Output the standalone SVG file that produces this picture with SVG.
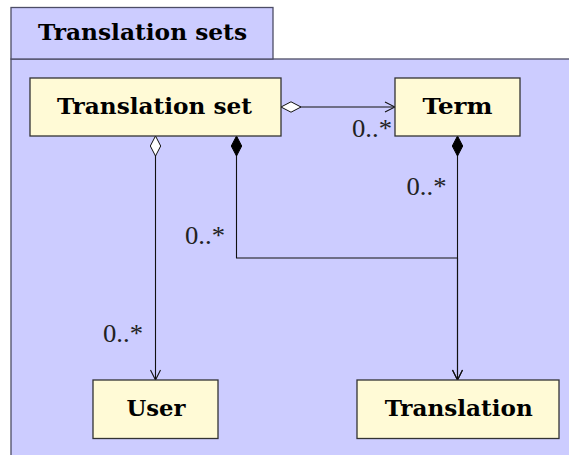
<svg xmlns="http://www.w3.org/2000/svg" width="569" height="455" viewBox="0 0 569 455">
  <style>
    .pkg { fill: #ccccff; stroke: #4d4d66; stroke-width: 1.3; }
    .cls { fill: #fffad6; stroke: #333333; stroke-width: 1.3; }
    .title { font-family: "DejaVu Serif", "Liberation Serif", serif; font-weight: bold; font-size: 22px; fill: #000; }
    .mult { font-family: "Liberation Serif", "DejaVu Serif", serif; font-size: 25px; fill: #222; }
    .line { fill: none; stroke: #111; stroke-width: 1.1; }
  </style>
  <defs>
    <marker id="open-arrow" viewBox="0 0 12 12" refX="11" refY="6" markerWidth="12" markerHeight="12" markerUnits="userSpaceOnUse" orient="auto">
      <path d="M1,1 L11,6 L1,11" fill="none" stroke="#111" stroke-width="1.1"/>
    </marker>
    <marker id="aggregation" viewBox="0 0 22 12" refX="1" refY="6" markerWidth="22" markerHeight="12" markerUnits="userSpaceOnUse" orient="auto">
      <path d="M1,6 L11,0.8 L21,6 L11,11.2 Z" fill="#ffffff" stroke="#111" stroke-width="1"/>
    </marker>
    <marker id="composition" viewBox="0 0 22 12" refX="1" refY="6" markerWidth="22" markerHeight="12" markerUnits="userSpaceOnUse" orient="auto">
      <path d="M1,6 L11,0.8 L21,6 L11,11.2 Z" fill="#000000" stroke="#000" stroke-width="1"/>
    </marker>
  </defs>

  <!-- package frame with its tab -->
  <g id="package">
    <rect class="pkg" x="11" y="59" width="570" height="410"/>
    <rect class="pkg" x="11" y="7.5" width="262" height="51.5"/>
    <text class="title" x="142.5" y="40" text-anchor="middle" textLength="209" lengthAdjust="spacingAndGlyphs">Translation sets</text>
  </g>

  <!-- associations -->
  <g id="connectors">
    <path class="line" d="M281,107 L395,107" marker-start="url(#aggregation)" marker-end="url(#open-arrow)"/>
    <path class="line" d="M155.5,136 L155.5,380" marker-start="url(#aggregation)" marker-end="url(#open-arrow)"/>
    <path class="line" d="M236.5,136 L236.5,258 L457.5,258 L457.5,380" marker-start="url(#composition)" marker-end="url(#open-arrow)"/>
    <path class="line" d="M457.5,136 L457.5,380" marker-start="url(#composition)" marker-end="url(#open-arrow)"/>
    <text class="mult" x="352" y="137" textLength="40" lengthAdjust="spacingAndGlyphs">0..*</text>
    <text class="mult" x="406.5" y="195" textLength="40" lengthAdjust="spacingAndGlyphs">0..*</text>
    <text class="mult" x="185" y="244" textLength="40" lengthAdjust="spacingAndGlyphs">0..*</text>
    <text class="mult" x="103" y="342" textLength="40" lengthAdjust="spacingAndGlyphs">0..*</text>
  </g>

  <g id="translation-set">
    <rect class="cls" x="30" y="78" width="251" height="58"/>
    <text class="title" x="154.5" y="114" text-anchor="middle" textLength="195" lengthAdjust="spacingAndGlyphs">Translation set</text>
  </g>

  <g id="term">
    <rect class="cls" x="395" y="78" width="125" height="58"/>
    <text class="title" x="457.5" y="113.5" text-anchor="middle" textLength="70" lengthAdjust="spacingAndGlyphs">Term</text>
  </g>

  <g id="user">
    <rect class="cls" x="93" y="380" width="125" height="58.5"/>
    <text class="title" x="156" y="415.5" text-anchor="middle" textLength="59" lengthAdjust="spacingAndGlyphs">User</text>
  </g>

  <g id="translation">
    <rect class="cls" x="357" y="380" width="202" height="58.5"/>
    <text class="title" x="458.8" y="415.5" text-anchor="middle" textLength="148" lengthAdjust="spacingAndGlyphs">Translation</text>
  </g>
</svg>
